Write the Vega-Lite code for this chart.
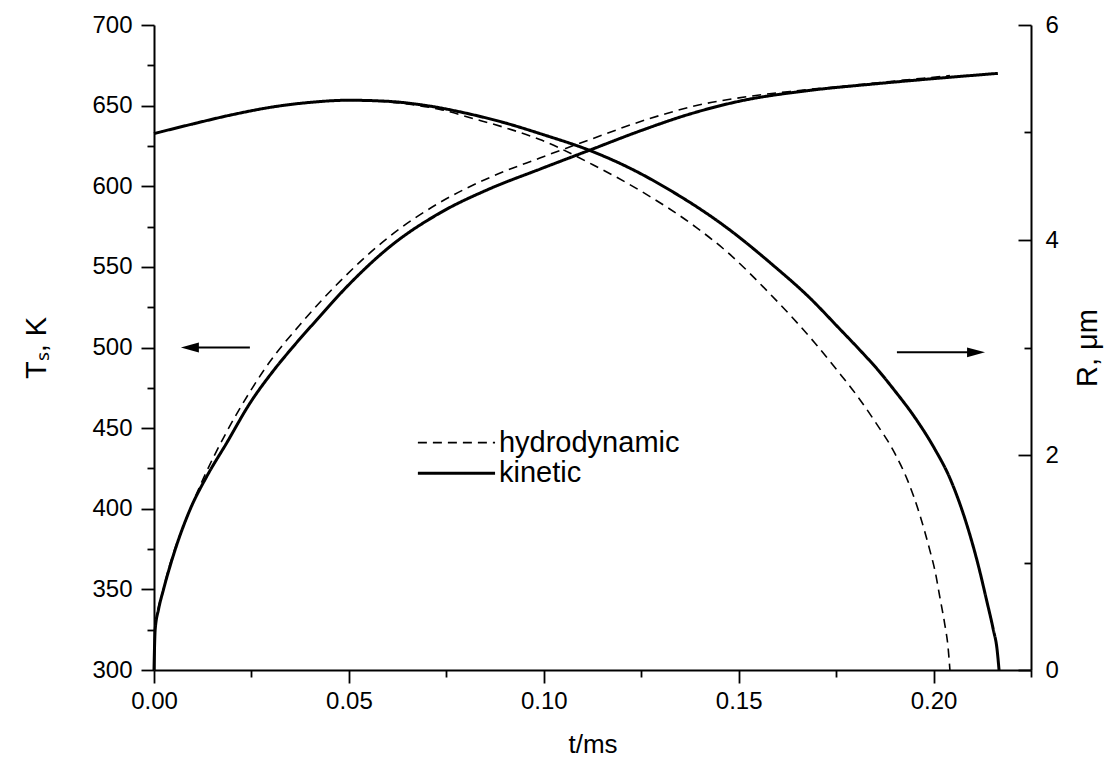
{
  "$schema": "https://vega.github.io/schema/vega-lite/v6.json",
  "width": 877,
  "height": 645,
  "autosize": {"type": "none"},
  "padding": {"left": 154, "top": 25, "right": 81, "bottom": 104},
  "background": "white",
  "config": {
    "view": {"stroke": null},
    "font": "Liberation Sans",
    "axis": {
      "grid": false,
      "domainColor": "black",
      "domainWidth": 2,
      "tickColor": "black",
      "tickWidth": 1.8,
      "labelColor": "black",
      "titleColor": "black",
      "labelFont": "Liberation Sans",
      "titleFont": "Liberation Sans",
      "labelFontSize": 24,
      "titleFontSize": 29,
      "titleFontWeight": "normal"
    }
  },
  "datasets": {
    "T": [
      {"t": 0, "v": 300, "model": "kinetic"},
      {"t": 0.0003, "v": 325, "model": "kinetic"},
      {"t": 0.0012, "v": 338, "model": "kinetic"},
      {"t": 0.0024, "v": 349.6, "model": "kinetic"},
      {"t": 0.0054, "v": 374.4, "model": "kinetic"},
      {"t": 0.0092, "v": 399.2, "model": "kinetic"},
      {"t": 0.0135, "v": 419.9, "model": "kinetic"},
      {"t": 0.0186, "v": 440.6, "model": "kinetic"},
      {"t": 0.0246, "v": 465.4, "model": "kinetic"},
      {"t": 0.0306, "v": 485.5, "model": "kinetic"},
      {"t": 0.0357, "v": 500.5, "model": "kinetic"},
      {"t": 0.0417, "v": 517, "model": "kinetic"},
      {"t": 0.0494, "v": 537.5, "model": "kinetic"},
      {"t": 0.0605, "v": 562.5, "model": "kinetic"},
      {"t": 0.0734, "v": 583.5, "model": "kinetic"},
      {"t": 0.0862, "v": 598.5, "model": "kinetic"},
      {"t": 0.099, "v": 610.6, "model": "kinetic"},
      {"t": 0.1119, "v": 622.5, "model": "kinetic"},
      {"t": 0.1247, "v": 634.3, "model": "kinetic"},
      {"t": 0.1375, "v": 644.8, "model": "kinetic"},
      {"t": 0.1503, "v": 652.8, "model": "kinetic"},
      {"t": 0.1674, "v": 659.2, "model": "kinetic"},
      {"t": 0.1845, "v": 663.4, "model": "kinetic"},
      {"t": 0.1974, "v": 666.2, "model": "kinetic"},
      {"t": 0.2165, "v": 670, "model": "kinetic"},
      {"t": 0, "v": 300, "model": "hydrodynamic"},
      {"t": 0.0003, "v": 325, "model": "hydrodynamic"},
      {"t": 0.0024, "v": 350, "model": "hydrodynamic"},
      {"t": 0.0054, "v": 375.5, "model": "hydrodynamic"},
      {"t": 0.0075, "v": 389, "model": "hydrodynamic"},
      {"t": 0.0127, "v": 419, "model": "hydrodynamic"},
      {"t": 0.0186, "v": 447.5, "model": "hydrodynamic"},
      {"t": 0.0246, "v": 472.5, "model": "hydrodynamic"},
      {"t": 0.0285, "v": 487, "model": "hydrodynamic"},
      {"t": 0.0383, "v": 516.5, "model": "hydrodynamic"},
      {"t": 0.0477, "v": 541, "model": "hydrodynamic"},
      {"t": 0.0605, "v": 569, "model": "hydrodynamic"},
      {"t": 0.0734, "v": 590, "model": "hydrodynamic"},
      {"t": 0.0862, "v": 605.5, "model": "hydrodynamic"},
      {"t": 0.099, "v": 617.5, "model": "hydrodynamic"},
      {"t": 0.1119, "v": 629, "model": "hydrodynamic"},
      {"t": 0.1272, "v": 642, "model": "hydrodynamic"},
      {"t": 0.14, "v": 650.5, "model": "hydrodynamic"},
      {"t": 0.1529, "v": 655.8, "model": "hydrodynamic"},
      {"t": 0.1632, "v": 658.8, "model": "hydrodynamic"},
      {"t": 0.18, "v": 662.8, "model": "hydrodynamic"},
      {"t": 0.1974, "v": 667, "model": "hydrodynamic"},
      {"t": 0.2042, "v": 668.6, "model": "hydrodynamic"}
    ],
    "R": [
      {"t": 0, "v": 4.99, "model": "kinetic"},
      {"t": 0.01, "v": 5.08, "model": "kinetic"},
      {"t": 0.02, "v": 5.165, "model": "kinetic"},
      {"t": 0.03, "v": 5.235, "model": "kinetic"},
      {"t": 0.04, "v": 5.28, "model": "kinetic"},
      {"t": 0.05, "v": 5.3, "model": "kinetic"},
      {"t": 0.06, "v": 5.29, "model": "kinetic"},
      {"t": 0.07, "v": 5.25, "model": "kinetic"},
      {"t": 0.08, "v": 5.18, "model": "kinetic"},
      {"t": 0.09, "v": 5.09, "model": "kinetic"},
      {"t": 0.099, "v": 4.99, "model": "kinetic"},
      {"t": 0.112, "v": 4.83, "model": "kinetic"},
      {"t": 0.122, "v": 4.67, "model": "kinetic"},
      {"t": 0.133, "v": 4.45, "model": "kinetic"},
      {"t": 0.146, "v": 4.14, "model": "kinetic"},
      {"t": 0.159, "v": 3.76, "model": "kinetic"},
      {"t": 0.168, "v": 3.47, "model": "kinetic"},
      {"t": 0.176, "v": 3.17, "model": "kinetic"},
      {"t": 0.181, "v": 2.98, "model": "kinetic"},
      {"t": 0.186, "v": 2.78, "model": "kinetic"},
      {"t": 0.19, "v": 2.6, "model": "kinetic"},
      {"t": 0.195, "v": 2.36, "model": "kinetic"},
      {"t": 0.2004, "v": 2.05, "model": "kinetic"},
      {"t": 0.204, "v": 1.8, "model": "kinetic"},
      {"t": 0.207, "v": 1.52, "model": "kinetic"},
      {"t": 0.2093, "v": 1.26, "model": "kinetic"},
      {"t": 0.2115, "v": 0.97, "model": "kinetic"},
      {"t": 0.2136, "v": 0.65, "model": "kinetic"},
      {"t": 0.2153, "v": 0.38, "model": "kinetic"},
      {"t": 0.2163, "v": 0.19, "model": "kinetic"},
      {"t": 0.2168, "v": 0, "model": "kinetic"},
      {"t": 0, "v": 4.99, "model": "hydrodynamic"},
      {"t": 0.01, "v": 5.08, "model": "hydrodynamic"},
      {"t": 0.02, "v": 5.165, "model": "hydrodynamic"},
      {"t": 0.03, "v": 5.235, "model": "hydrodynamic"},
      {"t": 0.04, "v": 5.28, "model": "hydrodynamic"},
      {"t": 0.05, "v": 5.3, "model": "hydrodynamic"},
      {"t": 0.06, "v": 5.285, "model": "hydrodynamic"},
      {"t": 0.066, "v": 5.26, "model": "hydrodynamic"},
      {"t": 0.0734, "v": 5.215, "model": "hydrodynamic"},
      {"t": 0.0819, "v": 5.13, "model": "hydrodynamic"},
      {"t": 0.0905, "v": 5.04, "model": "hydrodynamic"},
      {"t": 0.099, "v": 4.935, "model": "hydrodynamic"},
      {"t": 0.1126, "v": 4.7, "model": "hydrodynamic"},
      {"t": 0.1247, "v": 4.46, "model": "hydrodynamic"},
      {"t": 0.139, "v": 4.12, "model": "hydrodynamic"},
      {"t": 0.147, "v": 3.89, "model": "hydrodynamic"},
      {"t": 0.158, "v": 3.5, "model": "hydrodynamic"},
      {"t": 0.164, "v": 3.27, "model": "hydrodynamic"},
      {"t": 0.1696, "v": 3.04, "model": "hydrodynamic"},
      {"t": 0.175, "v": 2.8, "model": "hydrodynamic"},
      {"t": 0.18, "v": 2.57, "model": "hydrodynamic"},
      {"t": 0.185, "v": 2.31, "model": "hydrodynamic"},
      {"t": 0.19, "v": 2.02, "model": "hydrodynamic"},
      {"t": 0.1935, "v": 1.75, "model": "hydrodynamic"},
      {"t": 0.1965, "v": 1.44, "model": "hydrodynamic"},
      {"t": 0.199, "v": 1.12, "model": "hydrodynamic"},
      {"t": 0.2005, "v": 0.9, "model": "hydrodynamic"},
      {"t": 0.2016, "v": 0.68, "model": "hydrodynamic"},
      {"t": 0.2029, "v": 0.42, "model": "hydrodynamic"},
      {"t": 0.2037, "v": 0.22, "model": "hydrodynamic"},
      {"t": 0.2042, "v": 0, "model": "hydrodynamic"}
    ],
    "shafts": [
      {"t1": 0.0092, "t2": 0.0246, "v": 500},
      {"t1": 0.1906, "t2": 0.2109, "v": 497}
    ],
    "heads": [
      {"t": 0.0092, "v": 500, "dir": "left"},
      {"t": 0.2109, "v": 497, "dir": "right"}
    ],
    "legend": [
      {"t1": 0.0677, "t2": 0.0875, "tl": 0.0885, "v": 441, "model": "hydrodynamic"},
      {"t1": 0.0677, "t2": 0.0875, "tl": 0.0885, "v": 422, "model": "kinetic"}
    ]
  },
  "layer": [
    {
      "layer": [
        {
          "data": {"name": "T"},
          "mark": {"type": "line", "color": "black", "interpolate": "monotone"},
          "encoding": {
            "x": {
              "field": "t", "type": "quantitative",
              "scale": {"domain": [0, 0.225], "nice": false, "zero": false},
              "axis": {
                "title": "t/ms",
                "titleFontSize": 26,
                "values": [0, 0.025, 0.05, 0.075, 0.1, 0.125, 0.15, 0.175, 0.2, 0.225],
                "labelExpr": "abs(datum.value*20 - round(datum.value*20)) < 0.001 ? format(datum.value, '.2f') : ''",
                "tickSize": {"condition": {"test": "abs(datum.value*20 - round(datum.value*20)) < 0.001", "value": 13}, "value": 7},
                "labelPadding": 6,
                "titlePadding": 18,
                "labelFlush": false
              }
            },
            "y": {
              "field": "v", "type": "quantitative",
              "scale": {"domain": [300, 700], "nice": false, "zero": false},
              "axis": {
                "title": "Tₛ, K",
                "values": [300, 325, 350, 375, 400, 425, 450, 475, 500, 525, 550, 575, 600, 625, 650, 675, 700],
                "labelExpr": "datum.value % 50 == 0 ? datum.label : ''",
                "tickSize": {"condition": {"test": "datum.value % 50 == 0", "value": 13}, "value": 7},
                "labelPadding": 9,
                "titlePadding": 40,
                "labelFlush": false
              }
            },
            "strokeDash": {
              "field": "model", "type": "nominal",
              "scale": {"domain": ["hydrodynamic", "kinetic"], "range": [[9, 6], [1, 0]]},
              "legend": null
            },
            "strokeWidth": {
              "field": "model", "type": "ordinal",
              "scale": {"domain": ["hydrodynamic", "kinetic"], "range": [1.6, 3]},
              "legend": null
            }
          }
        },
        {
          "data": {"name": "shafts"},
          "mark": {"type": "rule", "color": "black", "strokeWidth": 2},
          "encoding": {
            "x": {"field": "t1", "type": "quantitative"},
            "x2": {"field": "t2"},
            "y": {"field": "v", "type": "quantitative"}
          }
        },
        {
          "data": {"name": "heads"},
          "mark": {"type": "point", "filled": true, "color": "black", "opacity": 1, "size": 324},
          "encoding": {
            "x": {"field": "t", "type": "quantitative"},
            "y": {"field": "v", "type": "quantitative"},
            "shape": {
              "field": "dir", "type": "nominal",
              "scale": {"domain": ["left", "right"], "range": ["M-1,0L1,-0.55L1,0.55Z", "M1,0L-1,-0.55L-1,0.55Z"]},
              "legend": null
            }
          }
        },
        {
          "data": {"name": "legend"},
          "mark": {"type": "rule", "color": "black"},
          "encoding": {
            "x": {"field": "t1", "type": "quantitative"},
            "x2": {"field": "t2"},
            "y": {"field": "v", "type": "quantitative"},
            "strokeDash": {"field": "model", "type": "nominal", "legend": null},
            "strokeWidth": {"field": "model", "type": "ordinal", "legend": null}
          }
        },
        {
          "data": {"name": "legend"},
          "mark": {"type": "text", "align": "left", "baseline": "middle", "fontSize": 29, "font": "Liberation Sans", "color": "black"},
          "encoding": {
            "x": {"field": "tl", "type": "quantitative"},
            "y": {"field": "v", "type": "quantitative"},
            "text": {"field": "model"}
          }
        }
      ]
    },
    {
      "data": {"name": "R"},
      "mark": {"type": "line", "color": "black", "interpolate": "monotone"},
      "encoding": {
        "x": {"field": "t", "type": "quantitative"},
        "y": {
          "field": "v", "type": "quantitative",
          "scale": {"domain": [0, 6], "nice": false},
          "axis": {
            "orient": "right",
            "title": "R, μm",
            "titleAngle": -90,
            "values": [0, 1, 2, 3, 4, 5, 6],
            "labelExpr": "datum.value % 2 == 0 ? datum.label : ''",
            "tickSize": {"condition": {"test": "datum.value % 2 == 0", "value": -13}, "value": -7},
            "labelPadding": 27,
            "titlePadding": 44,
            "labelFlush": false
          }
        },
        "strokeDash": {
          "field": "model", "type": "nominal",
          "scale": {"domain": ["hydrodynamic", "kinetic"], "range": [[9, 6], [1, 0]]},
          "legend": null
        },
        "strokeWidth": {
          "field": "model", "type": "ordinal",
          "scale": {"domain": ["hydrodynamic", "kinetic"], "range": [1.6, 3]},
          "legend": null
        }
      }
    }
  ],
  "resolve": {"scale": {"y": "independent"}}
}
